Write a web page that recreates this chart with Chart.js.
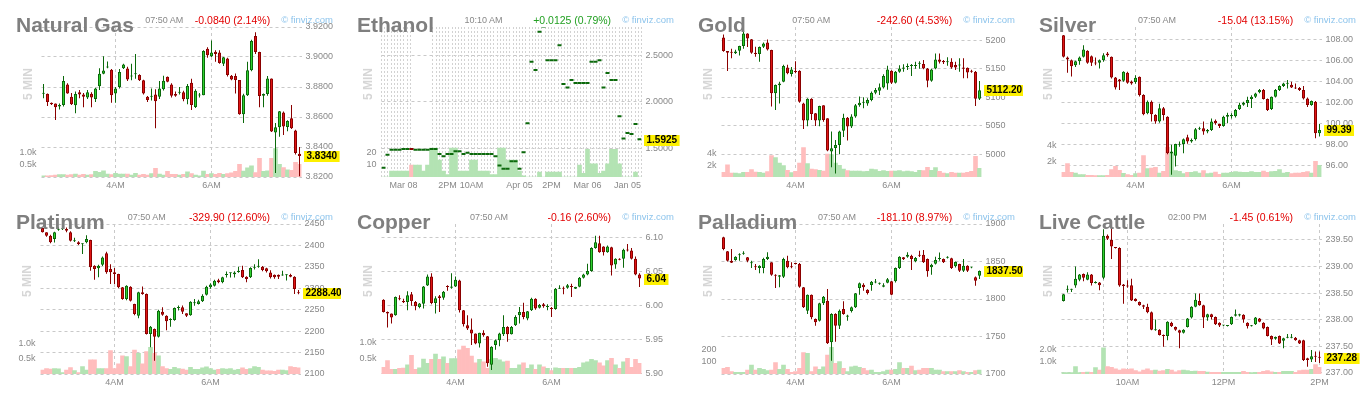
<!DOCTYPE html>
<html>
<head>
<meta charset="utf-8">
<title>Futures – 5 minute candles</title>
<script src="https://cdn.jsdelivr.net/npm/chart.js@4.4.1/dist/chart.umd.min.js"></script>
<style>
  html, body { margin: 0; padding: 0; background: #fff; }
  body { width: 1364px; height: 394px; position: relative; overflow: hidden;
         font-family: "Liberation Sans", Arial, sans-serif; }
  .panel { position: absolute; width: 341px; height: 197px; overflow: hidden; }
  .panel canvas { position: absolute; left: 0; top: 0; }
  .hdr { position: absolute; left: 16px; top: 0; width: 317px; height: 40px;
         display: flex; align-items: flex-start; white-space: nowrap; }
  .ttl { font: bold 21px/21px "Liberation Sans", Arial, sans-serif; color: #7f7f7f; margin-top: 14px; }
  .tm  { flex: 1; text-align: center; font: 9px/9px "Liberation Sans", Arial, sans-serif; color: #888; margin-top: 15.5px; }
  .chg { font: 10.5px/10.5px "Liberation Sans", Arial, sans-serif; margin-top: 14.5px; }
  .fv  { font: 9.5px/9.5px "Liberation Sans", Arial, sans-serif; color: #8dc4ec; margin-left: 11px; margin-top: 14.5px; }
  .min5 { position: absolute; width: 40px; height: 12px; text-align: center;
          font: bold 12px/12px "Liberation Sans", Arial, sans-serif; color: #d6d6d6;
          transform: rotate(-90deg); transform-origin: 50% 50%; }
</style>
</head>
<body>
<script>
// ---------- candles: [open, high, low, close] per 5-minute bar ----------
const natGasOHLC = [
  [3.8755,3.882,3.8725,3.8758],[3.8755,3.8757,3.8673,3.870],[3.8695,3.8697,3.868,3.8685],[3.869,3.869,3.858,3.8665],
  [3.867,3.869,3.865,3.868],[3.868,3.8873,3.867,3.884],[3.8817,3.8825,3.8755,3.8757],[3.8735,3.876,3.868,3.8685],
  [3.8678,3.877,3.8625,3.8753],[3.8765,3.878,3.8725,3.875],[3.875,3.876,3.8665,3.8735],[3.873,3.878,3.872,3.8765],
  [3.8755,3.8765,3.8665,3.873],[3.872,3.8795,3.870,3.879],[3.8805,3.8925,3.878,3.8888],[3.8888,3.9005,3.8885,3.891],
  [3.893,3.897,3.8925,3.8935],[3.8915,3.892,3.8695,3.8745],[3.8757,3.880,3.8695,3.879],[3.880,3.892,3.879,3.890],
  [3.8925,3.8955,3.892,3.895],[3.8923,3.8935,3.884,3.885],[3.887,3.8955,3.8845,3.8872],[3.8885,3.902,3.8855,3.8888],
  [3.888,3.8885,3.884,3.8845],[3.8845,3.8848,3.875,3.8757],[3.8735,3.874,3.870,3.8713],[3.8735,3.879,3.871,3.8736],
  [3.875,3.8785,3.8525,3.8705],[3.8735,3.884,3.872,3.879],[3.8785,3.8875,3.8777,3.8842],[3.8868,3.887,3.8832,3.8835],
  [3.8817,3.8825,3.873,3.8742],[3.8753,3.877,3.8735,3.8742],[3.8762,3.880,3.875,3.8763],[3.8765,3.8775,3.8705,3.8718],
  [3.8718,3.882,3.8685,3.8806],[3.8828,3.8855,3.8647,3.868],[3.8666,3.8785,3.866,3.8775],[3.8743,3.876,3.873,3.8747],
  [3.8745,3.9045,3.8745,3.904],[3.9055,3.9065,3.8995,3.9012],[3.9005,3.911,3.900,3.903],[3.9035,3.9045,3.8968,3.902],
  [3.903,3.9045,3.8955,3.896],[3.8955,3.900,3.894,3.8998],[3.899,3.8995,3.887,3.888],[3.8875,3.888,3.8845,3.885],
  [3.8873,3.889,3.8757,3.8846],[3.8846,3.8847,3.8615,3.8618],[3.8618,3.8755,3.856,3.8745],[3.8745,3.8968,3.874,3.8912],
  [3.8912,3.9115,3.8905,3.9107],[3.914,3.9165,3.902,3.9034],[3.9034,3.9035,3.8665,3.874],[3.8742,3.8757,3.8665,3.8753],
  [3.8753,3.8873,3.8742,3.8857],[3.8857,3.8857,3.850,3.8503],[3.8497,3.856,3.8227,3.8532],[3.8532,3.864,3.8468,3.8638],
  [3.863,3.8637,3.848,3.8537],[3.8534,3.8578,3.8505,3.8574],[3.8592,3.868,3.852,3.8525],[3.851,3.8515,3.835,3.836],
  [3.8355,3.840,3.8205,3.834]
];
const natGasVol = [0.05,0.05,0.06,0.08,0.1,0.1,0.08,0.1,0.12,0.08,0.11,0.08,0.1,0.24,0.19,0.26,0.12,0.1,0.15,0.12,
  0.12,0.12,0.08,0.15,0.08,0.11,0.08,0.14,0.36,0.12,0.08,0.24,0.11,0.11,0.08,0.11,0.22,0.14,0.08,0.05,
  0.25,0.11,0.14,0.11,0.15,0.11,0.14,0.17,0.24,0.53,0.25,0.38,0.47,0.18,0.78,0.24,0.26,0.78,1.18,0.53,
  0.39,0.3,0.28,0.61,0.53];

const ethanolOHLC = [
  [1.287,1.287,1.287,1.287],[1.426,1.426,1.426,1.426],[1.479,1.479,1.479,1.479],[1.479,1.479,1.479,1.479],
  [1.479,1.479,1.479,1.479],[1.489,1.489,1.489,1.489],[1.489,1.489,1.489,1.489],[1.4895,1.4895,1.489,1.489],
  [1.479,1.479,1.479,1.479],[1.479,1.479,1.479,1.479],[1.479,1.479,1.479,1.479],[1.479,1.479,1.479,1.479],
  [1.489,1.489,1.489,1.489],[1.489,1.489,1.489,1.489],[1.436,1.436,1.436,1.436],[1.411,1.411,1.411,1.411],
  [1.436,1.436,1.436,1.436],[1.436,1.436,1.436,1.436],[1.464,1.464,1.464,1.464],[1.464,1.464,1.464,1.464],
  [1.436,1.436,1.436,1.436],[1.447,1.447,1.447,1.447],[1.436,1.436,1.436,1.436],[1.436,1.436,1.436,1.436],
  [1.436,1.436,1.436,1.436],[1.436,1.436,1.436,1.436],[1.436,1.436,1.436,1.436],[1.436,1.436,1.436,1.436],
  [1.411,1.411,1.411,1.411],[1.312,1.312,1.312,1.312],[1.277,1.277,1.277,1.277],[1.277,1.277,1.277,1.277],
  [1.358,1.358,1.358,1.358],[1.358,1.358,1.358,1.358],[1.277,1.277,1.277,1.277],[1.454,1.454,1.454,1.454],
  [1.762,1.762,1.762,1.762],[2.418,2.418,2.418,2.418],[2.330,2.330,2.330,2.330],[2.738,2.738,2.738,2.738],
  [2.794,2.794,2.794,2.794],[2.436,2.436,2.436,2.436],[2.436,2.436,2.436,2.436],[2.436,2.436,2.436,2.436],
  [2.596,2.596,2.596,2.596],[2.181,2.181,2.181,2.181],[2.145,2.145,2.145,2.145],[2.223,2.223,2.223,2.223],
  [2.191,2.191,2.191,2.191],[2.191,2.191,2.191,2.191],[2.191,2.191,2.191,2.191],[2.191,2.191,2.191,2.191],
  [2.418,2.418,2.418,2.418],[2.418,2.418,2.418,2.418],[2.436,2.436,2.436,2.436],[2.145,2.145,2.145,2.145],
  [2.298,2.298,2.298,2.298],[2.223,2.223,2.223,2.223],[2.223,2.223,2.223,2.223],[1.837,1.837,1.837,1.837],
  [1.600,1.600,1.600,1.600],[1.660,1.660,1.660,1.660],[1.649,1.649,1.649,1.649],[1.755,1.755,1.755,1.755],
  [1.5925,1.5925,1.5925,1.5925]
];
const ethanolVol = [0,0,5,5,5,5,5,10,10,10, 5,10,24,24,14,5,2,24,24,5, 5,5,14,14,5,5,5,2,2,24,
  24,14,14,14,5,1,0,0,0,4, 0,4,4,4,4,0,0,0,0,10, 3,23,11,11,3,5,11,23,23,11, 0,0,0,4,0];

const goldOHLC = [
  [5204.7,5210,5179.6,5180.8],[5180.8,5181,5146,5177.9],[5179.6,5185,5168,5177.9],[5176.9,5183,5175.5,5180.2],
  [5181.4,5190,5173,5189.5],[5189.5,5215.7,5185,5211.7],[5211.7,5212,5188,5203],[5201.7,5202,5176,5177.9],
  [5177.9,5188.3,5171,5175.5],[5175.6,5189,5162,5187.8],[5188.3,5196,5186,5194],[5196,5201,5182,5183.7],
  [5182.5,5183,5083.4,5106.7],[5106.7,5122,5077.5,5121.3],[5121,5127,5089,5124],[5127,5157,5126,5154.5],
  [5152,5157,5140,5141.7],[5140.5,5153,5136,5148.3],[5146,5163,5142,5144],[5146.4,5147,5090,5092],
  [5089,5090,5044,5059],[5059,5098,5049,5097],[5097,5098,5060,5070.6],[5071.7,5072,5049.6,5059],
  [5059,5085,5049,5084.5],[5085.7,5086,5057,5060],[5062.9,5063,5005,5006.4],[5004.5,5039.6,4977,5010.5],
  [5011,5025,4966,5016],[5016,5041,5000,5039.6],[5041,5071,5030,5064],[5064,5065,5024,5048.4],
  [5048.4,5070,5046,5066],[5066,5088,5064,5086],[5086,5101,5083,5090.4],[5090.4,5100,5080.5,5090.6],
  [5089,5098,5085,5095],[5095,5110,5093,5107.8],[5107.8,5116,5105,5112.5],[5111.4,5124,5103.8,5117.2],
  [5117,5140,5115,5137],[5124,5155,5113,5148.7],[5146.4,5147,5123,5125.4],[5125.4,5146,5124,5144.6],
  [5144.6,5156,5143,5150.4],[5150,5157.5,5144.5,5152],[5152.9,5159.2,5147.5,5153.7],[5154.5,5158,5137,5154.6],
  [5154.5,5162,5150,5156.3],[5158.5,5163,5150,5159],[5158,5165,5149,5150.4],[5150.4,5151,5117.2,5128.9],
  [5128.9,5150,5127,5148.7],[5150.4,5176.7,5149,5166.2],[5166.2,5176.7,5159,5162.1],[5163.3,5165,5158,5161],
  [5161,5170,5155,5161.1],[5162,5168,5150,5152],[5156.3,5162,5147.5,5152.2],[5155.5,5168,5144.6,5156.3],
  [5152,5168,5133,5150],[5151.6,5152,5133,5143.4],[5146.4,5148,5143,5144.6],[5144.6,5146,5084.5,5097.4],
  [5097.4,5128.3,5095,5112.2]
];
const goldVol = [0.8,2.1,0.69,0.69,0.57,0.8,0.8,1.26,0.86,0.8, 0.69,0.91,3.66,3.31,2.4,1.94,1.14,0.74,0.97,2.4,
  5.03,2.29,1.37,1.26,1.14,1.03,3.94,3.83,2.4,2.0, 1.37,1.09,1.03,1.03,1.03,0.91,0.97,1.37,1.26,0.97,
  1.09,0.97,1.03,1.03,1.09,0.91,1.03,0.91,0.8,1.14, 1.09,1.66,1.14,1.6,0.97,0.69,0.57,0.8,0.69,0.69,
  0.69,0.8,0.97,3.54,1.49];

const silverOHLC = [
  [108.41,108.45,106.3,106.36],[106.3,106.4,104.85,106.1],[106.04,106.1,104.5,105.47],[105.57,106.0,105.4,105.95],
  [105.95,106.4,105.6,106.3],[106.36,107.46,106.3,107.05],[106.93,107.0,105.7,105.79],[106.42,106.5,105.5,105.79],
  [105.8,106.3,105.57,105.73],[105.79,106.1,105.25,106.04],[106.04,106.7,105.9,106.52],[106.67,106.83,106.36,106.52],
  [106.36,106.4,104.3,104.4],[104.4,104.45,103.26,103.45],[104.2,104.25,103.2,104.02],[104.08,105.0,104.0,104.94],
  [104.84,104.95,103.8,103.9],[104.02,104.1,103.7,103.83],[103.96,104.6,103.8,104.37],[104.46,104.5,102.6,102.73],
  [102.73,102.8,100.8,100.9],[100.99,102.2,100.9,102.1],[102.1,102.2,100.2,100.9],[100.83,100.9,100.0,100.2],
  [100.2,101.9,100.1,101.46],[101.46,101.6,100.3,100.83],[100.67,100.7,97.1,97.2],[97.17,98.0,95.15,97.36],
  [96.95,98.1,95.94,98.08],[98.0,98.3,97.8,98.08],[98.08,98.6,97.2,98.53],[98.72,98.94,98.1,98.3],
  [98.3,98.6,98.2,98.46],[98.53,99.6,98.4,99.47],[99.47,99.7,99.4,99.57],[99.57,100.2,98.94,99.25],
  [99.25,99.5,99.1,99.41],[99.41,100.5,99.3,100.2],[100.27,100.4,99.9,100.04],[99.98,100.0,99.6,99.79],
  [99.79,100.75,99.7,100.67],[100.67,101.05,100.04,100.83],[100.7,101.0,100.5,100.83],[100.7,101.4,100.6,101.3],
  [101.4,102.0,101.3,101.8],[101.8,102.1,101.7,102.0],[101.97,102.57,101.6,102.25],[102.35,102.7,101.5,102.57],
  [102.57,102.95,102.45,102.88],[103.0,103.3,102.9,103.2],[103.2,103.3,102.3,102.35],[102.35,102.4,101.2,101.3],
  [101.4,102.6,101.3,102.57],[102.57,103.3,102.5,103.2],[103.2,103.65,103.1,103.58],[103.58,103.9,103.5,103.83],
  [103.8,104.15,103.36,103.83],[103.7,104.0,103.4,103.45],[103.45,103.83,103.3,103.36],[103.4,103.5,103.1,103.2],
  [103.2,103.58,102.3,102.4],[102.4,102.5,101.6,101.78],[101.78,102.2,101.7,102.15],[102.1,102.15,98.62,99.1],
  [99.1,99.98,98.78,99.39]
];
const silverVol = [0.59,1.68,0.59,0.51,0.29,0.29,0.21,0.21,0.17,0.17, 0.17,0.21,0.93,1.35,0.84,0.46,0.29,0.21,0.42,0.51,
  2.7,1.05,1.14,1.22,0.51,0.72,3.75,3.03,0.8,0.72, 0.42,0.59,0.59,0.67,0.51,0.8,0.42,0.51,0.63,0.34,
  0.51,0.51,0.59,0.67,0.63,0.59,0.59,0.67,0.59,0.59, 0.76,0.59,0.67,0.72,0.93,0.51,0.59,0.42,0.51,0.51,
  0.59,0.67,0.51,1.98,1.47];

const platinumOHLC = [
  [2440.7,2442,2430,2430.6],[2430.6,2431,2420,2422.8],[2422.8,2425,2405,2407.2],[2415,2432,2407,2430.6],
  [2436.7,2442.2,2434.4,2438.3],[2438,2441,2436,2438.1],[2438.3,2442,2430.6,2434.4],[2430.6,2433,2409,2411],
  [2410,2418,2408,2411.5],[2407.2,2409.5,2401,2403.3],[2403,2405,2380,2404],[2407.2,2424,2405,2415],
  [2412.7,2413,2341,2349],[2352.8,2354,2320,2345],[2347,2355,2325.6,2352.8],[2355,2374,2352,2372],
  [2381.6,2385,2334,2337.2],[2345,2356,2310,2337.2],[2337.2,2347.3,2310,2333.3],[2333.3,2334,2300,2302.2],
  [2302.2,2303,2273,2275],[2275,2307,2272,2306],[2303.8,2305,2269,2271],[2263.3,2264,2237,2240],
  [2236,2292,2230,2290.5],[2290.5,2304,2285,2286.7],[2286.7,2288,2192,2193.3],[2193.3,2212,2162.2,2210.4],
  [2205,2206,2131,2187],[2187,2250,2185,2247.8],[2245.4,2255.5,2236,2238.4],[2236,2237,2202,2223],
  [2226,2230,2210,2228],[2226,2255,2224,2254],[2254,2260,2248,2256],[2255.6,2260,2240,2245.4],
  [2241.5,2242,2233,2236],[2237,2270,2236,2268.8],[2265,2275,2259.4,2265.2],[2263.3,2273,2262,2269.5],
  [2269.5,2286,2268,2282.8],[2285,2306,2283,2303.8],[2302.2,2312,2299,2308.6],[2306,2320,2304,2317.8],
  [2319,2322,2312,2314],[2314,2327,2312,2325.6],[2331,2339,2325,2333.5],[2335,2337,2325,2335.3],
  [2333,2340,2325,2337],[2338,2350,2336,2341],[2342.6,2352.8,2324,2325.6],[2327,2328,2314,2321.7],
  [2325.6,2349,2324,2347.3],[2348,2356,2344,2350],[2350,2368,2348,2351],[2350.4,2352,2340,2342.6],
  [2347,2348,2337,2339.7],[2337,2342,2323,2325.6],[2331.5,2332,2322,2325.6],[2331.5,2332,2321.7,2327],
  [2330,2341,2329,2331.5],[2330.5,2333,2318,2331],[2331,2334,2326,2327],[2327,2328,2286.7,2298.3],
  [2291,2296,2286,2288.4]
];
const platinumVol = [0.13,0.18,0.16,0.18,0.17,0.05,0.13,0.21,0.11,0.05, 0.24,0.13,0.46,0.46,0.18,0.18,0.18,0.76,0.18,0.33,
  0.59,0.57,0.24,0.78,0.67,0.33,0.73,0.87,0.67,0.59, 0.24,0.18,0.15,0.22,0.18,0.16,0.13,0.22,0.15,0.15,
  0.2,0.23,0.18,0.13,0.15,0.18,0.16,0.18,0.13,0.15, 0.2,0.15,0.18,0.24,0.22,0.13,0.1,0.1,0.09,0.13,
  0.13,0.11,0.24,0.22,0.2];

const copperOHLC = [
  [6.0088,6.0095,5.99,5.9907],[5.9907,5.9912,5.9676,5.9882],[5.9882,5.9885,5.9735,5.9824],[5.9858,6.0135,5.985,6.0127],
  [6.0108,6.0152,6.0078,6.0093],[6.0069,6.0103,6.0039,6.005],[6.0054,6.0211,5.9931,6.0152],[6.0167,6.0201,6.0,6.0069],
  [6.0054,6.0069,5.9931,5.999],[5.998,6.004,5.996,6.003],[6.0029,6.029,5.9956,6.0284],[6.0299,6.046,6.029,6.0432],
  [6.0432,6.048,6.002,6.0039],[6.0039,6.0137,5.9882,6.0108],[6.0137,6.0157,5.9907,6.0113],[6.0118,6.0216,6.0088,6.0206],
  [6.0284,6.03,6.022,6.0275],[6.0265,6.048,6.025,6.0284],[6.0284,6.0432,6.0275,6.0382],[6.0373,6.0383,5.99,5.9931],
  [5.9931,5.9935,5.969,5.9725],[5.9711,5.9858,5.964,5.9662],[5.9647,5.9809,5.9417,5.9588],[5.9588,5.959,5.943,5.9441],
  [5.9441,5.96,5.9382,5.9598],[5.9598,5.9637,5.9539,5.9564],[5.9549,5.955,5.9098,5.9147],[5.9128,5.94,5.9049,5.9392],
  [5.9417,5.95,5.935,5.949],[5.949,5.96,5.94,5.9588],[5.9578,5.9858,5.955,5.9686],[5.9686,5.9696,5.9466,5.9578],
  [5.9578,5.97,5.9575,5.9686],[5.9711,5.9858,5.97,5.9833],[5.9858,5.998,5.9735,5.9907],[5.9907,6.0044,5.98,5.9833],
  [5.9809,5.992,5.9784,5.9917],[5.9931,6.0118,5.992,6.0103],[6.0103,6.0108,5.9941,5.9956],[5.997,6.0025,5.9956,6.001],
  [6.002,6.004,5.997,5.999],[5.998,6.002,5.9931,5.999],[5.9966,5.998,5.9833,5.995],[5.995,6.026,5.994,6.025],
  [6.025,6.03,6.0245,6.026],[6.0265,6.0284,6.0167,6.025],[6.0265,6.032,6.025,6.03],[6.0284,6.0324,6.0127,6.0275],
  [6.025,6.028,6.0245,6.0275],[6.028,6.0422,6.027,6.0412],[6.0412,6.047,6.04,6.0461],[6.0461,6.0618,6.045,6.051],
  [6.051,6.0863,6.05,6.0853],[6.0853,6.1034,6.084,6.0936],[6.0922,6.1034,6.078,6.0789],[6.0873,6.0878,6.074,6.0789],
  [6.0789,6.089,6.078,6.0873],[6.0863,6.087,6.0446,6.0593],[6.0608,6.07,6.0544,6.0691],[6.0691,6.07,6.067,6.0677],
  [6.0691,6.084,6.0559,6.0824],[6.0824,6.0912,6.08,6.0814],[6.0814,6.0853,6.068,6.0691],[6.0691,6.0726,6.045,6.0461],
  [6.0461,6.048,6.0275,6.04]
];
const copperVol = [0.21,0.43,0.15,0.15,0.18,0.19,0.29,0.6,0.15,0.2, 0.48,0.34,0.47,0.64,0.47,0.55,0.34,0.49,0.49,0.77,
  0.89,0.82,0.57,0.36,0.47,0.39,0.18,0.47,0.5,0.45, 0.39,0.41,0.18,0.18,0.29,0.36,0.18,0.29,0.15,0.29,
  0.23,0.18,0.11,0.2,0.18,0.18,0.18,0.18,0.18,0.21, 0.36,0.39,0.47,0.43,0.36,0.26,0.43,0.5,0.29,0.18,
  0.39,0.5,0.21,0.47,0.34];

const palladiumOHLC = [
  [1882.2,1883,1865,1866.7],[1863.6,1864,1850,1851.1],[1851.1,1866.7,1848,1848.4],[1852,1857,1851,1856.4],
  [1858.2,1860.9,1851.1,1859.6],[1860.5,1863.6,1859,1860.9],[1855.6,1856,1849,1851.1],[1847.6,1851.1,1841.3,1847.7],
  [1843.1,1846.7,1838.7,1842.2],[1841.3,1845,1834.2,1844.4],[1841.3,1855,1834.2,1853.3],[1853.3,1862.2,1852,1856.4],
  [1848.9,1849,1831,1832.4],[1832.4,1833,1814.7,1831.1],[1829.8,1832,1815.6,1831.6],[1829.8,1855,1828,1853.3],
  [1851.1,1857.8,1841,1842.2],[1843.1,1848.9,1841,1842.2],[1847.6,1848,1846,1846.7],[1846.7,1848,1815,1816.4],
  [1815.6,1816,1788,1788.9],[1784.4,1806,1780,1805.8],[1805.8,1806,1773,1775.6],[1773.3,1774,1764.4,1768.9],
  [1771.1,1795,1770,1794.2],[1794.2,1804,1792,1803.1],[1797.8,1813.3,1740,1740.9],[1742.2,1781,1717.8,1780],
  [1780,1781,1743,1764.4],[1764.4,1786,1760,1784.4],[1786.7,1796.9,1779,1780],[1776.2,1779,1771,1778],
  [1784,1790,1782,1789],[1789,1808,1788,1807.6],[1814.7,1822,1805.8,1820.9],[1819.1,1821,1811,1815.6],
  [1812.4,1813,1806,1808],[1818.7,1824,1811,1823.1],[1822,1826.7,1821,1823.5],[1820.5,1822,1819,1820.6],
  [1816.4,1820.9,1815.6,1818.2],[1821.8,1828,1821,1826.2],[1823.6,1824,1805,1805.8],[1823.6,1842,1822,1841.3],
  [1841.3,1857,1840,1856.4],[1855.6,1856,1852,1852.9],[1856.4,1862.2,1855,1859.1],[1857.8,1859,1838.7,1853.3],
  [1850.2,1856,1849,1854.7],[1859.1,1864.4,1856,1857.8],[1859.1,1865.3,1848,1848.9],[1853.3,1854,1829.8,1836.9],
  [1842.2,1847,1832.4,1845.8],[1847.1,1856.4,1846,1852],[1853.3,1862,1851.1,1853.5],[1853.3,1854,1848,1848.9],
  [1855,1857,1854,1855.6],[1854.2,1855,1840,1841.3],[1843.6,1850,1842,1849.3],[1846.7,1847,1836,1837.8],
  [1837.8,1853.3,1836,1844.4],[1844.4,1845,1836,1837.8],[1842,1843,1841,1842.2],[1828.9,1830,1817.8,1824.4],
  [1831.1,1838,1826.7,1837.5]
];
const palladiumVol = [46,54,19,14,14,14,32,73,32,46, 38,27,32,92,38,73,38,14,19,46, 173,168,19,59,38,59,154,216,86,100,
  46,19,59,65,54,46,27,32,14,14, 19,32,32,38,92,46,46,65,27,32, 46,46,46,32,32,19,19,19,19,27, 19,14,14,27,32];

const cattleOHLC = [
  [238.35,238.48,238.34,238.475],[238.56,238.64,238.51,238.58],[238.56,238.58,238.52,238.57],[238.64,239.0,238.6,238.77],
  [238.75,238.86,238.72,238.85],[238.86,238.87,238.72,238.79],[238.75,238.89,238.74,238.85],[238.85,238.86,238.64,238.69],
  [238.69,238.72,238.68,238.71],[238.7,238.71,238.55,238.645],[238.79,239.7,238.76,239.58],[239.58,239.6,239.5,239.52],
  [239.5,239.71,239.14,239.375],[239.36,239.36,239.34,239.35],[239.35,239.36,238.62,238.64],[238.66,238.67,238.3,238.63],
  [238.64,238.74,238.6,238.625],[238.645,238.77,238.35,238.36],[238.39,238.4,238.34,238.35],[238.33,238.34,238.26,238.27],
  [238.27,238.28,238.2,238.24],[238.24,238.3,238.12,238.14],[238.14,238.15,237.8,237.81],[237.8,238.0,237.79,237.81],
  [237.81,237.82,237.7,237.71],[237.71,237.72,237.49,237.69],[237.69,237.97,237.61,237.96],[237.94,237.96,237.86,237.875],
  [237.86,237.87,237.79,237.81],[237.8,237.81,237.46,237.75],[237.75,237.82,237.74,237.81],[237.86,238.03,237.85,238.02],
  [238.04,238.25,238.02,238.24],[238.24,238.49,238.23,238.375],[238.35,238.49,238.26,238.27],[238.27,238.28,237.84,238.04],
  [238.04,238.11,237.98,238.1],[238.1,238.11,238.0,238.05],[238.05,238.06,237.9,237.91],[237.94,237.95,237.86,237.89],
  [237.89,237.9,237.88,237.89],[237.88,237.9,237.87,237.88],[237.91,238.06,237.9,238.05],[238.07,238.19,238.06,238.1],
  [238.075,238.11,238.06,238.1],[238.09,238.1,237.94,238.0],[237.94,237.95,237.83,237.875],[237.875,237.9,237.87,237.89],
  [237.91,238.05,237.9,238.04],[238.02,238.03,237.95,237.96],[237.94,237.95,237.82,237.83],[237.86,237.87,237.68,237.69],
  [237.69,237.7,237.52,237.625],[237.64,237.68,237.62,237.67],[237.69,237.7,237.54,237.55],[237.6,237.66,237.46,237.65],
  [237.66,237.73,237.65,237.675],[237.66,237.73,237.65,237.66],[237.66,237.67,237.6,237.61],[237.61,237.62,237.54,237.55],
  [237.61,237.62,237.22,237.24],[237.27,237.28,237.11,237.24],[237.25,237.425,237.2,237.31],[237.31,237.4,237.2,237.3],
  [237.3,237.4,237.18,237.28]
];
const cattleVol = [0.11,0.11,0.11,0.61,0.11,0.14,0.17,0.14,0.53,0.33, 2.19,0.61,0.56,0.44,0.33,0.44,0.39,0.44,0.28,0.19,
  0.33,0.44,0.28,0.33,0.25,0.28,0.39,0.33,0.19,0.28, 0.33,0.28,0.22,0.25,0.22,0.22,0.17,0.14,0.14,0.14,
  0.14,0.14,0.14,0.14,0.14,0.22,0.14,0.11,0.14,0.14, 0.22,0.28,0.19,0.14,0.14,0.22,0.22,0.22,0.14,0.28,
  0.33,0.33,0.39,0.78,0.56];

// ---------- axis ticks ----------
const metalTimeIdx = [18, 42];
const metalTimeText = ['4AM', '6AM'];
const ethanolTimeIdx = [5, 16, 22, 34, 42, 51, 61];
const ethanolTimeText = ['Mar 08', '2PM', '10AM', 'Apr 05', '2PM', 'Mar 06', 'Jan 05'];
const cattleTimeIdx = [10, 16, 40, 64];
const cattleTimeText = ['', '10AM', '12PM', '2PM'];

const natGasTicks = [3.82, 3.84, 3.86, 3.88, 3.90, 3.92];
const ethanolTicks = [1.5, 2.0, 2.5];
const goldTicks = [5000, 5050, 5100, 5150, 5200];
const silverTicks = [96, 98, 100, 102, 104, 106, 108];
const platinumTicks = [2100, 2150, 2200, 2250, 2300, 2350, 2400, 2450];
const copperTicks = [5.90, 5.95, 6.00, 6.05, 6.10];
const palladiumTicks = [1700, 1750, 1800, 1850, 1900];
const cattleTicks = [237.0, 237.5, 238.0, 238.5, 239.0, 239.5];

const natGasVolTicks = [0.5, 1.0],  natGasVolText = ['0.5k', '1.0k'];
const ethanolVolTicks = [10, 20],   ethanolVolText = ['10', '20'];
const goldVolTicks = [2, 4],        goldVolText = ['2k', '4k'];
const silverVolTicks = [2, 4],      silverVolText = ['2k', '4k'];
const platinumVolTicks = [0.5, 1.0], platinumVolText = ['0.5k', '1.0k'];
const copperVolTicks = [0.5, 1.0],  copperVolText = ['0.5k', '1.0k'];
const palladiumVolTicks = [100, 200], palladiumVolText = ['100', '200'];
const cattleVolTicks = [1.0, 2.0],  cattleVolText = ['1.0k', '2.0k'];

// dense session grid behind the ethanol bars (index range left blank)
const ethanolGridCount = 80;
const ethanolGridGap = [10, 15];

// ---------- styling ----------
const FONT = '"Liberation Sans", Arial, sans-serif';
const UP_FILL = '#2fd12f', UP_LINE = '#0b690b', DN_FILL = '#e01414', DN_LINE = '#8a0000';
const VOL_UP = '#b3e3b3', VOL_DN = '#ffbdbd';
const GRID = '#c9c9c9', AXIS_TXT = '#888888';
const RED = '#e20000', GREEN = '#22a022';

Chart.defaults.font.family = FONT;
Chart.defaults.font.size = 9;
Chart.defaults.color = AXIS_TXT;

// yellow tag with the last close, placed on the price axis
const lastPriceTag = {
  id: 'lastPriceTag',
  afterDraw(chart, _args, opts) {
    const body = chart.data.datasets[0].data;
    const last = body[body.length - 1][1];
    const y = Math.round(chart.scales.y.getPixelForValue(last));
    const { ctx, chartArea } = chart;
    const text = last.toFixed(opts.decimals);
    ctx.save();
    ctx.font = 'bold 10px ' + FONT;
    const w = ctx.measureText(text).width;
    const x0 = Math.round(chartArea.right) + 2;
    ctx.fillStyle = '#fdf000';
    ctx.fillRect(x0, y - 5, w + 5, 11);
    ctx.fillStyle = '#000';
    ctx.textBaseline = 'middle';
    ctx.fillText(text, x0 + 2.5, y + 0.5);
    ctx.restore();
  }
};

const panels = [
  { title: 'Natural Gas', time: '07:50 AM', change: '-0.0840 (2.14%)', color: RED,
    ohlc: natGasOHLC, vol: natGasVol, yMin: 3.82, yMax: 3.92, yTicks: natGasTicks, yDec: 4, lastDec: 4,
    vMax: 6.25, vTicks: natGasVolTicks, vText: natGasVolText, xIdx: metalTimeIdx, xText: metalTimeText, left: 41.5 },
  { title: 'Ethanol', time: '10:10 AM', change: '+0.0125 (0.79%)', color: GREEN,
    ohlc: ethanolOHLC, vol: ethanolVol, yMin: 1.2, yMax: 2.8, yTicks: ethanolTicks, yDec: 4, lastDec: 4,
    vMax: 125, vTicks: ethanolVolTicks, vText: ethanolVolText, xIdx: ethanolTimeIdx, xText: ethanolTimeText, left: 40.5,
    flat: true },
  { title: 'Gold', time: '07:50 AM', change: '-242.60 (4.53%)', color: RED,
    ohlc: goldOHLC, vol: goldVol, yMin: 4960, yMax: 5223, yTicks: goldTicks, yDec: 0, lastDec: 2,
    vMax: 25.7, vTicks: goldVolTicks, vText: goldVolText, xIdx: metalTimeIdx, xText: metalTimeText, left: 39.5 },
  { title: 'Silver', time: '07:50 AM', change: '-15.04 (13.15%)', color: RED,
    ohlc: silverOHLC, vol: silverVol, yMin: 94.93, yMax: 109.2, yTicks: silverTicks, yDec: 2, lastDec: 2,
    vMax: 18.95, vTicks: silverVolTicks, vText: silverVolText, xIdx: metalTimeIdx, xText: metalTimeText, left: 38.5 },
  { title: 'Platinum', time: '07:50 AM', change: '-329.90 (12.60%)', color: RED,
    ohlc: platinumOHLC, vol: platinumVol, yMin: 2100, yMax: 2450, yTicks: platinumTicks, yDec: 0, lastDec: 2,
    vMax: 4.89, vTicks: platinumVolTicks, vText: platinumVolText, xIdx: metalTimeIdx, xText: metalTimeText, left: 40.5 },
  { title: 'Copper', time: '07:50 AM', change: '-0.16 (2.60%)', color: RED,
    ohlc: copperOHLC, vol: copperVol, yMin: 5.899, yMax: 6.1206, yTicks: copperTicks, yDec: 2, lastDec: 2,
    vMax: 4.79, vTicks: copperVolTicks, vText: copperVolText, xIdx: metalTimeIdx, xText: metalTimeText, left: 40.5 },
  { title: 'Palladium', time: '07:50 AM', change: '-181.10 (8.97%)', color: RED,
    ohlc: palladiumOHLC, vol: palladiumVol, yMin: 1700, yMax: 1900, yTicks: palladiumTicks, yDec: 0, lastDec: 2,
    vMax: 1216, vTicks: palladiumVolTicks, vText: palladiumVolText, xIdx: metalTimeIdx, xText: metalTimeText, left: 39.5 },
  { title: 'Live Cattle', time: '02:00 PM', change: '-1.45 (0.61%)', color: RED,
    ohlc: cattleOHLC, vol: cattleVol, yMin: 236.975, yMax: 239.8, yTicks: cattleTicks, yDec: 2, lastDec: 2,
    vMax: 12.5, vTicks: cattleVolTicks, vText: cattleVolText, xIdx: cattleTimeIdx, xText: cattleTimeText, left: 38.5 }
];

const PANEL_W = 341, PANEL_H = 197, PLOT_W = 260, PLOT_TOP = 27, X_AXIS_H = 20;

function makePanel(p, n) {
  const el = document.createElement('div');
  el.className = 'panel';
  el.style.left = (n % 4) * PANEL_W + 'px';
  el.style.top = Math.floor(n / 4) * PANEL_H + 'px';

  const cv = document.createElement('canvas');
  cv.width = PANEL_W; cv.height = PANEL_H;
  cv.style.width = PANEL_W + 'px'; cv.style.height = PANEL_H + 'px';
  el.appendChild(cv);

  const hdr = document.createElement('div');
  hdr.className = 'hdr';
  hdr.innerHTML = '<span class="ttl"></span><span class="tm"></span><span class="chg"></span><span class="fv">\u00A9 finviz.com</span>';
  hdr.querySelector('.ttl').textContent = p.title;
  hdr.querySelector('.tm').textContent = p.time;
  const chg = hdr.querySelector('.chg');
  chg.textContent = p.change;
  chg.style.color = p.color;
  el.appendChild(hdr);

  const tag = document.createElement('div');
  tag.className = 'min5';
  tag.textContent = '5 MIN';
  tag.style.left = (p.left - 14 - 20) + 'px';
  tag.style.top = (84 - 6) + 'px';
  el.appendChild(tag);

  document.body.appendChild(el);

  const up = p.ohlc.map(d => d[3] >= d[0]);
  const bodies = {
    data: p.ohlc.map(d => [d[0], d[3]]),
    backgroundColor: up.map(u => p.flat ? (u ? UP_LINE : DN_LINE) : (u ? UP_FILL : DN_FILL)),
    borderColor: up.map(u => u ? UP_LINE : DN_LINE),
    borderWidth: p.flat ? 0 : 1,
    borderSkipped: false,
    minBarLength: p.flat ? 2 : 1,
    inflateAmount: 0,
    grouped: false, order: 0, yAxisID: 'y', xAxisID: 'x'
  };
  if (p.flat) { bodies.barPercentage = 1; bodies.categoryPercentage = 1; }
  else { bodies.barThickness = 3; }

  const wicks = {
    data: p.ohlc.map(d => [d[2], d[1]]),
    backgroundColor: up.map(u => u ? UP_LINE : DN_LINE),
    barThickness: 1, inflateAmount: 0,
    grouped: false, order: 1, yAxisID: 'y', xAxisID: 'x'
  };
  const volume = {
    data: p.vol,
    backgroundColor: up.map(u => u ? VOL_UP : VOL_DN),
    barPercentage: 1, categoryPercentage: 1,
    grouped: false, order: 2, yAxisID: 'v', xAxisID: 'x'
  };

  const scales = {
    x: {
      type: 'category', position: 'bottom', offset: true,
      afterFit: s => { s.height = X_AXIS_H; },
      afterBuildTicks: s => { s.ticks = p.xIdx.map(v => ({ value: v })); },
      ticks: { autoSkip: false, maxRotation: 0, minRotation: 0, padding: 3,
               callback: (v, k) => p.xText[k] },
      grid: { display: !p.flat, offset: false, drawTicks: false, color: GRID },
      border: { display: false, dash: [3, 3] }
    },
    y: {
      type: 'linear', position: 'right', min: p.yMin, max: p.yMax,
      afterFit: s => { s.width = PANEL_W - p.left - PLOT_W; },
      afterBuildTicks: s => { s.ticks = p.yTicks.map(v => ({ value: v })); },
      ticks: { padding: 4, autoSkip: false, callback: v => Number(v).toFixed(p.yDec) },
      grid: { drawTicks: false, color: GRID },
      border: { display: false, dash: [3, 3] }
    },
    v: {
      type: 'linear', position: 'left', min: 0, max: p.vMax,
      afterFit: s => { s.width = p.left; },
      afterBuildTicks: s => { s.ticks = p.vTicks.map(v => ({ value: v })); },
      ticks: { padding: 5, autoSkip: false, callback: (v, k) => p.vText[k] },
      grid: { display: false, drawTicks: false },
      border: { display: false }
    }
  };
  if (p.flat) {
    scales.g = {
      type: 'linear', position: 'bottom', min: 0, max: ethanolGridCount,
      afterFit: s => { s.height = 0; },
      afterBuildTicks: s => { s.ticks = Array.from({ length: ethanolGridCount + 1 }, (_, k) => ({ value: k })); },
      ticks: { display: false },
      grid: { drawTicks: false,
              color: c => (c.tick && c.tick.value >= ethanolGridGap[0] && c.tick.value <= ethanolGridGap[1]) ? 'rgba(0,0,0,0)' : '#d2d2d2' },
      border: { display: false, dash: [2, 2] }
    };
  }

  new Chart(cv, {
    type: 'bar',
    data: { labels: p.ohlc.map((_, k) => String(k)), datasets: [bodies, wicks, volume] },
    options: {
      responsive: false, animation: false, devicePixelRatio: 1, events: [],
      layout: { padding: { top: PLOT_TOP, left: 0, right: 0, bottom: 0 } },
      plugins: { legend: { display: false }, tooltip: { enabled: false },
                 lastPriceTag: { decimals: p.lastDec } },
      scales
    },
    plugins: [lastPriceTag]
  });
}

panels.forEach(makePanel);
</script>
</body>
</html>
